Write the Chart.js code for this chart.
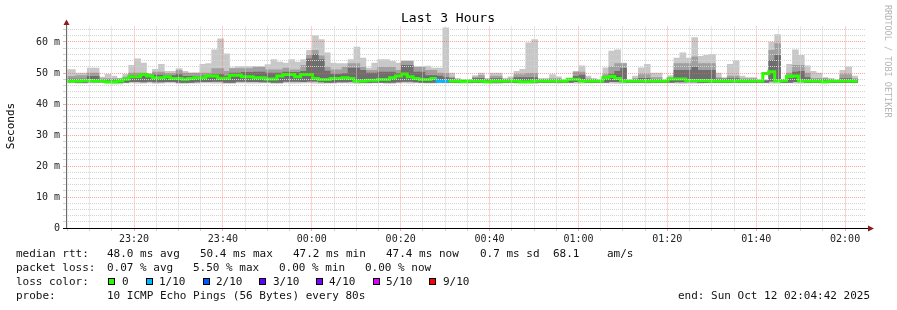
<!DOCTYPE html>
<html>
<head>
<meta charset="utf-8">
<title>Last 3 Hours</title>
<script src="https://cdn.jsdelivr.net/npm/chart.js@4.4.1/dist/chart.umd.min.js"></script>
<style>
  html, body { margin: 0; padding: 0; background: #fff; }
  #wrap { width: 897px; height: 310px; }
</style>
</head>
<body>
<div id="wrap"><canvas id="chart" width="897" height="310"></canvas></div>
<script>
// time is kept as seconds from midnight (negative = previous day)
const FIRST_BAR_START = -3351; // 23:04:09
const STEP_SECONDS = 80;
const X_MIN = -3318; // 23:04:42
const X_MAX = 7482;  // 02:04:42

const xTickLabels = ['23:20', '23:40', '00:00', '00:20', '00:40', '01:00', '01:20', '01:40', '02:00'];
const yTickValues = [0, 10, 20, 30, 40, 50, 60];

// smoke: highest ping of each step (ms)
const smokeMax = [
  51.1, 51.1, 50, 50, 51.6, 51.6, 48.7, 49.6, 49, 48.2, 49.6,
  52.5, 54.6, 53.2, 49.8, 51.2, 52.8, 50.5, 50.5, 51.4, 50.5,
  50, 50, 52.8, 53, 57.5, 61, 56.2, 51.7, 52.1, 52.1,
  52.1, 51.9, 51.6, 52.7, 54.3, 53.5, 53.2, 54.3, 53.5, 54.3,
  57.3, 62, 60.8, 56.5, 53.2, 53, 53, 54.3, 58.4, 54.8,
  51.6, 53.2, 54.3, 54.3, 53.8, 53.2, 53.9, 53.9, 52, 52,
  52.2, 51.6, 51.6, 64.6, 50, 48.2, 47.8, 47.8, 49.2, 50,
  48.2, 50, 50, 48.2, 48.8, 50.5, 51.2, 59.7, 60.8, 48.2,
  48.2, 49.5, 48.8, 47.8, 47.8, 50.5, 52.3, 49, 48.2, 47.8,
  51.7, 57.1, 57.5, 53.2, 47.8, 49, 51.7, 52.8, 50, 50,
  47.8, 49.2, 54.8, 56.5, 54.8, 61.4, 55.4, 55.7, 56, 50,
  48.5, 52.8, 54, 49, 48.5, 48.5, 47.8, 47.8, 60, 62.4,
  47.8, 52.8, 57.5, 55.7, 52.3, 50.5, 50, 48.5, 48.2, 47.8,
  50.9, 52, 49
];

// smoke: upper middle pings (ms)
const smokeMid = [
  48.9, 48.9, 49.2, 49.2, 50, 50, 48.2, 48.2, 48.2, 48.2, 48.7,
  50, 50, 50, 49.5, 50.3, 50.3, 49.8, 49.8, 50.9, 50,
  50, 50, 50, 50, 51.4, 51.4, 50.5, 51.4, 51.4, 51.4,
  51.4, 52, 52, 51, 51, 51, 51.6, 51, 51, 52.5,
  55.7, 57.3, 55.5, 52, 51, 51, 51.9, 53, 53, 51.9,
  50.9, 50.9, 51.9, 51.9, 51.9, 50.9, 53.8, 53.8, 51.9, 51.9,
  50.9, 50.9, 50, 49.8, 48.7, 48, 47.8, 47.8, 48.7, 49.2,
  48, 49, 49, 48, 48.2, 49.5, 49.5, 49.8, 49.8, 48,
  48, 48.2, 48.2, 47.6, 47.6, 50.3, 50.3, 48.2, 48, 47.6,
  49.5, 52, 53, 53, 47.6, 48.2, 49.5, 49.5, 48.5, 48.5,
  47.6, 48.5, 53, 53, 53, 55.2, 53, 53, 53, 48.5,
  48.2, 49, 49, 48.2, 48.2, 48.2, 47.6, 47.6, 57.3, 59.5,
  47.6, 50, 52.5, 52.5, 50, 48.3, 48.3, 48.3, 48, 47.6,
  49.5, 49.5, 48.2
];

// smoke: pings closest to the median (ms)
const smokeDark = [
  48, 48, 48, 48, 48.9, 48.9, 47.8, 47.8, 47.8, 47.8, 48,
  49.2, 49.2, 49.2, 49.3, 49.3, 49.3, 49.2, 49.2, 49.5, 48.9,
  48.9, 48.9, 49, 49, 49.5, 49.5, 49, 50, 50, 50.2,
  50.2, 50.3, 50.3, 50, 50, 50, 50.3, 50.2, 50.2, 50.5,
  54.6, 56, 54.3, 50.6, 49.6, 49.6, 49.8, 51.6, 51.6, 50.9,
  50, 50, 50.3, 50.3, 50.3, 49.8, 52.5, 52.5, 50.3, 50.3,
  49.2, 49.2, 49, 48.5, 48.2, 47.8, 47.6, 47.6, 48.2, 48.3,
  47.8, 48.2, 48.2, 47.8, 47.8, 48.5, 48.5, 48.5, 48.5, 47.8,
  47.8, 47.8, 47.8, 47.5, 47.5, 48.9, 49.3, 47.8, 47.8, 47.5,
  48.3, 49.5, 50.5, 51.5, 47.5, 47.8, 48.3, 48.3, 47.9, 47.9,
  47.5, 47.9, 50.9, 50.9, 50.9, 51.9, 50.9, 50.9, 50.9, 48,
  48, 48.2, 48.2, 47.8, 47.8, 47.8, 47.5, 47.5, 54.1, 55.7,
  47.5, 48.8, 50.3, 50.5, 48.5, 47.8, 47.8, 47.8, 47.8, 47.5,
  48.2, 48.2, 47.8
];

// smoke: lowest ping of each step (ms)
const smokeLow = [
  46.8, 46.8, 46.7, 46.7, 46.8, 46.8, 46.9, 46.6, 46.5, 46.5, 46.8,
  46.8, 46.7, 46.7, 46.8, 46.6, 46.7, 46.8, 46.8, 46.6, 46.6,
  46.7, 46.7, 46.8, 46.8, 46.7, 46.7, 46.6, 46.6, 46.8, 46.8,
  46.7, 46.7, 46.8, 46.8, 46.6, 46.6, 46.8, 46.7, 46.7, 46.8,
  46.8, 46.7, 46.6, 46.7, 46.7, 46.8, 46.8, 46.7, 46.6, 46.7,
  46.7, 46.8, 46.8, 46.6, 46.6, 46.8, 46.8, 46.7, 46.8, 46.8,
  46.7, 46.7, 46.8, 46.8, 46.8, 46.8, 46.9, 46.7, 46.8, 46.8,
  46.8, 46.6, 46.6, 46.8, 46.8, 46.7, 46.7, 46.7, 46.6, 46.8,
  46.8, 46.8, 46.7, 46.8, 46.8, 46.7, 46.7, 46.8, 46.8, 46.8,
  46.8, 46.7, 46.6, 46.7, 46.8, 46.8, 46.8, 46.7, 46.8, 46.8,
  46.8, 46.8, 46.7, 46.6, 46.7, 46.7, 46.7, 46.8, 46.8, 46.8,
  46.8, 46.8, 46.8, 46.8, 46.8, 46.8, 46.8, 46.8, 46.7, 46.7,
  46.8, 46.8, 46.7, 46.7, 46.8, 46.8, 46.8, 46.8, 46.8, 46.8,
  46.8, 46.8, 46.8
];

// smoke: lower middle pings (ms)
const smokeInner = [
  47.1, 47.1, 47, 47, 47.1, 47.1, 47.1, 46.9, 46.9, 46.9, 47,
  47.2, 47.2, 47.1, 47.3, 47.1, 47.1, 47.2, 47.2, 47, 47,
  47, 47.1, 47.2, 47.2, 47.3, 47.3, 47, 47, 47.3, 47.3,
  47.2, 47.2, 47.1, 47.1, 47, 47, 47.3, 47.3, 47.3, 47.2,
  47.4, 47.4, 47.1, 47, 47, 47.1, 47.1, 47.2, 47.1, 47,
  47, 47, 47, 47, 47, 47.1, 47.3, 47.3, 47.1, 47,
  47, 47, 47.1, 47, 47, 47, 47, 47, 47, 47,
  47, 47, 47, 47, 47, 47, 47, 47, 47, 47,
  47, 47, 47, 47, 47, 47.2, 47.2, 47, 47, 47,
  47, 47.2, 47.2, 47.1, 47, 47, 47, 47, 47, 47,
  47, 47, 47.1, 47.1, 47.1, 47.1, 47, 47, 47, 47,
  47, 47, 47, 47, 47, 47, 47, 47, 47.4, 47.4,
  47, 47, 47.2, 47.2, 47, 47, 47, 47, 47, 47,
  47, 47, 47
];

// median rtt of each step (ms)
const medianRtt = [
  47.4, 47.4, 47.4, 47.4, 47.6, 47.6, 47.4, 47.4, 47.2, 47.2, 47.4,
  48, 48.8, 48.8, 49.5, 49, 48.5, 48.5, 48.8, 48.2, 48.2,
  48, 48.2, 48.5, 48.5, 49, 49, 48.3, 48.3, 49.3, 49.3,
  48.8, 48.8, 48.5, 48.5, 48.1, 48.1, 49, 49.5, 49.5, 48.8,
  49.5, 49.5, 48.2, 47.9, 47.9, 48.2, 48.2, 48.5, 48.2, 47.4,
  47.4, 47.7, 47.7, 47.9, 47.9, 48.5, 49, 49.7, 48.8, 48.2,
  47.9, 47.9, 48.2, 47.3, 47.4, 47.4, 47.4, 47.2, 47.4, 47.4,
  47.4, 47.2, 47.4, 47.4, 47.4, 47.4, 47.4, 47.2, 47.2, 47.4,
  47.4, 47.4, 47.4, 47.4, 47.4, 48, 48, 47.4, 47.4, 47.4,
  47.4, 48.5, 48.9, 48.2, 47.4, 47.4, 47.4, 47.4, 47.4, 47.4,
  47.4, 47.4, 48.1, 48.1, 48.1, 47.6, 47.6, 47.6, 47.6, 47.4,
  47.4, 47.4, 47.4, 47.4, 47.4, 47.4, 47.4, 47.4, 49.8, 50.4,
  47.4, 47.6, 48.9, 49, 47.4, 47.4, 47.4, 47.4, 47.2, 47.4,
  47.4, 47.4, 47.4
];

// lost pings out of 10 for each step
const lossTenths = [
  0, 0, 0, 0, 0, 0, 0, 0, 0, 0, 0,
  0, 0, 0, 0, 0, 0, 0, 0, 0, 0,
  0, 0, 0, 0, 0, 0, 0, 0, 0, 0,
  0, 0, 0, 0, 0, 0, 0, 0, 0, 0,
  0, 0, 0, 0, 0, 0, 0, 0, 0, 0,
  0, 0, 0, 0, 0, 0, 0, 0, 0, 0,
  0, 0, 1, 1, 0, 0, 0, 0, 0, 0,
  0, 0, 0, 0, 0, 0, 0, 0, 0, 0,
  0, 0, 0, 0, 0, 0, 0, 0, 0, 0,
  0, 0, 0, 0, 0, 0, 0, 0, 0, 0,
  0, 0, 0, 0, 0, 0, 0, 0, 0, 0,
  0, 0, 0, 0, 0, 0, 0, 0, 0, 0,
  0, 0, 0, 0, 0, 0, 0, 0, 0, 0,
  0, 0, 0
];

const LOSS_COLORS = {
  0: '#26ff00',
  1: '#00b8ff',
  2: '#0059ff',
  3: '#5e00ff',
  4: '#7e00ff',
  5: '#dd00ff',
  9: '#ff0000'
};

const MAJOR_GRID = 'rgba(255, 90, 90, 0.55)';
const MINOR_GRID = '#d2d2d2';
const MONO = "'DejaVu Sans Mono', monospace";

function pad2(n) {
  return (n < 10 ? '0' : '') + n;
}

function toClock(sec) {
  const s = ((sec % 86400) + 86400) % 86400;
  return pad2(Math.floor(s / 3600)) + ':' + pad2(Math.floor((s % 3600) / 60));
}

function barCenter(i) {
  return FIRST_BAR_START + STEP_SECONDS * i + STEP_SECONDS / 2;
}

function band(lows, highs) {
  return highs.map(function (h, i) {
    return { x: barCenter(i), y: [lows[i], h] };
  });
}

const medianPoints = medianRtt.map(function (v, i) {
  return { x: FIRST_BAR_START + STEP_SECONDS * i, y: v };
});
medianPoints.push({
  x: FIRST_BAR_START + STEP_SECONDS * medianRtt.length,
  y: medianRtt[medianRtt.length - 1]
});

function smokeSet(data, color, order) {
  return {
    type: 'bar',
    data: data,
    backgroundColor: color,
    borderWidth: 0,
    grouped: false,
    barPercentage: 1,
    categoryPercentage: 1,
    order: order,
    clip: 0
  };
}

const decorations = {
  id: 'decorations',
  beforeDraw(chart) {
    const ctx = chart.ctx;
    ctx.save();
    ctx.fillStyle = '#ffffff';
    ctx.fillRect(0, 0, chart.width, chart.height);
    ctx.restore();
  },
  afterDraw(chart) {
    const ctx = chart.ctx;
    const area = chart.chartArea;
    ctx.save();

    // axes with arrows
    ctx.lineWidth = 1;
    ctx.strokeStyle = '#6b6b6b';
    ctx.beginPath();
    ctx.moveTo(66.5, area.bottom);
    ctx.lineTo(66.5, 24);
    ctx.stroke();
    ctx.strokeStyle = '#000000';
    ctx.beginPath();
    ctx.moveTo(63, area.bottom + 0.5);
    ctx.lineTo(869, area.bottom + 0.5);
    ctx.stroke();
    ctx.fillStyle = '#8b1c1c';
    ctx.beginPath();
    ctx.moveTo(63.5, 25);
    ctx.lineTo(69.5, 25);
    ctx.lineTo(66.5, 19.5);
    ctx.closePath();
    ctx.fill();
    ctx.beginPath();
    ctx.moveTo(868, area.bottom - 2.5);
    ctx.lineTo(868, area.bottom + 3.5);
    ctx.lineTo(874, area.bottom + 0.5);
    ctx.closePath();
    ctx.fill();

    // title and axis title
    ctx.fillStyle = '#000000';
    ctx.font = '13px ' + MONO;
    ctx.textAlign = 'center';
    ctx.textBaseline = 'middle';
    ctx.fillText('Last 3 Hours', 448, 19);

    ctx.save();
    ctx.translate(11, 126);
    ctx.rotate(-Math.PI / 2);
    ctx.font = '11px ' + MONO;
    ctx.fillText('Seconds', 0, 0);
    ctx.restore();

    // watermark
    ctx.save();
    ctx.translate(887, 5);
    ctx.rotate(Math.PI / 2);
    ctx.font = '8.5px ' + MONO;
    ctx.textAlign = 'left';
    ctx.fillStyle = '#b4b4b4';
    ctx.fillText('RRDTOOL / TOBI OETIKER', 0, 0);
    ctx.restore();

    // legend block
    ctx.font = '11px ' + MONO;
    ctx.textAlign = 'left';
    ctx.fillStyle = '#111111';
    const put = function (text, x, y) {
      ctx.fillText(text, x, y);
    };
    put('median rtt:', 16, 254);
    put('48.0 ms avg', 107, 254);
    put('50.4 ms max', 200, 254);
    put('47.2 ms min', 293, 254);
    put('47.4 ms now', 386, 254);
    put('0.7 ms sd', 480, 254);
    put('68.1', 553, 254);
    put('am/s', 607, 254);

    put('packet loss:', 16, 268);
    put('0.07 % avg', 107, 268);
    put('5.50 % max', 193, 268);
    put('0.00 % min', 279, 268);
    put('0.00 % now', 365, 268);

    put('loss color:', 16, 282);
    const swatches = [
      [0, '0', 108, 122],
      [1, '1/10', 146, 159],
      [2, '2/10', 203, 216],
      [3, '3/10', 259, 273],
      [4, '4/10', 316, 329],
      [5, '5/10', 373, 386],
      [9, '9/10', 429, 443]
    ];
    swatches.forEach(function (s) {
      ctx.fillStyle = LOSS_COLORS[s[0]];
      ctx.fillRect(s[2], 278, 7, 7);
      ctx.strokeStyle = '#000000';
      ctx.strokeRect(s[2] + 0.5, 278.5, 6, 6);
      ctx.fillStyle = '#111111';
      put(s[1], s[3], 282);
    });

    put('probe:', 16, 296);
    put('10 ICMP Echo Pings (56 Bytes) every 80s', 107, 296);
    put('end: Sun Oct 12 02:04:42 2025', 678, 296);

    ctx.restore();
  }
};

new Chart(document.getElementById('chart'), {
  data: {
    datasets: [
      smokeSet(band(smokeLow, smokeMax), '#c8c8c8', 4),
      smokeSet(band(smokeInner, smokeMid), '#a0a0a0', 3),
      smokeSet(band(smokeInner, smokeDark), '#6e6e6e', 2),
      {
        type: 'line',
        data: medianPoints,
        stepped: 'after',
        borderWidth: 3,
        borderColor: LOSS_COLORS[0],
        segment: {
          borderColor: function (ctx) {
            return LOSS_COLORS[lossTenths[ctx.p0DataIndex]] || LOSS_COLORS[0];
          }
        },
        pointRadius: 0,
        order: 1,
        clip: 0
      }
    ]
  },
  options: {
    responsive: false,
    animation: false,
    devicePixelRatio: 1,
    layout: {
      padding: { left: 0, right: 31, top: 26.5, bottom: 0 }
    },
    plugins: {
      legend: { display: false },
      tooltip: { enabled: false },
      title: { display: false }
    },
    scales: {
      x: {
        type: 'linear',
        min: X_MIN,
        max: X_MAX,
        offset: false,
        afterFit: function (scale) {
          scale.height = 82;
        },
        afterBuildTicks: function (scale) {
          const ticks = [];
          for (let t = Math.ceil(X_MIN / 300) * 300; t <= X_MAX; t += 300) {
            ticks.push({ value: t });
          }
          scale.ticks = ticks;
        },
        ticks: {
          autoSkip: false,
          maxRotation: 0,
          padding: 2,
          color: '#222222',
          font: { family: MONO, size: 10 },
          callback: function (value) {
            const label = toClock(value);
            return value % 1200 === 0 && xTickLabels.indexOf(label) >= 0 ? label : '';
          }
        },
        grid: {
          z: 1,
          offset: false,
          tickLength: 3,
          lineWidth: 1,
          color: function (ctx) {
            return ctx.tick && ctx.tick.value % 1200 === 0 ? MAJOR_GRID : MINOR_GRID;
          }
        },
        border: { display: false, dash: [1, 1] }
      },
      y: {
        type: 'linear',
        min: 0,
        max: 65,
        afterFit: function (scale) {
          scale.width = 66;
        },
        afterBuildTicks: function (scale) {
          const ticks = [];
          for (let v = 0; v <= 64; v += 2) {
            ticks.push({ value: v });
          }
          scale.ticks = ticks;
        },
        ticks: {
          autoSkip: false,
          padding: 3,
          color: '#222222',
          font: { family: MONO, size: 10 },
          callback: function (value) {
            if (yTickValues.indexOf(value) < 0) return '';
            return value === 0 ? '0' : value + ' m';
          }
        },
        grid: {
          z: 1,
          tickLength: 3,
          lineWidth: 1,
          color: function (ctx) {
            return ctx.tick && yTickValues.indexOf(ctx.tick.value) >= 0 && ctx.tick.value > 0
              ? MAJOR_GRID
              : MINOR_GRID;
          }
        },
        border: { display: false, dash: [1, 1] }
      }
    }
  },
  plugins: [decorations]
});
</script>
</body>
</html>
